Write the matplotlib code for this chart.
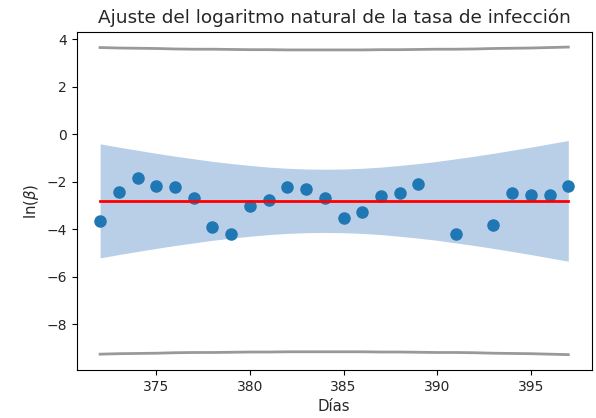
import numpy as np
import matplotlib
matplotlib.use('Agg')
import matplotlib.pyplot as plt

# --- datos ---
dias = [372, 373, 374, 375, 376, 377, 378, 379, 380, 381, 382, 383, 384,
        385, 386, 387, 388, 389, 391, 393, 394, 395, 396, 397]
ln_beta = [-3.66, -2.42, -1.83, -2.16, -2.23, -2.70, -3.91, -4.18, -3.02,
           -2.77, -2.23, -2.30, -2.70, -3.54, -3.27, -2.61, -2.49, -2.11,
           -4.19, -3.80, -2.49, -2.54, -2.54, -2.16]

# malla de días para el ajuste y las bandas
dias_ajuste = list(range(372, 398))
ajuste = [-2.79] * len(dias_ajuste)

banda_sup = [-0.40, -0.54, -0.67, -0.80, -0.92, -1.03, -1.14, -1.23, -1.31,
             -1.38, -1.43, -1.46, -1.47, -1.46, -1.43, -1.38, -1.31, -1.23,
             -1.14, -1.03, -0.92, -0.80, -0.67, -0.54, -0.40, -0.26]
banda_inf = [-5.20, -5.06, -4.93, -4.80, -4.68, -4.57, -4.46, -4.37, -4.29,
             -4.22, -4.17, -4.14, -4.13, -4.14, -4.17, -4.22, -4.29, -4.37,
             -4.46, -4.57, -4.68, -4.80, -4.93, -5.06, -5.20, -5.34]

pred_sup = [3.65, 3.63, 3.62, 3.61, 3.59, 3.58, 3.58, 3.57, 3.56, 3.56, 3.55,
            3.55, 3.55, 3.55, 3.55, 3.56, 3.56, 3.57, 3.58, 3.58, 3.59, 3.61,
            3.62, 3.63, 3.65, 3.67]
pred_inf = [-9.25, -9.23, -9.22, -9.21, -9.19, -9.18, -9.18, -9.17, -9.16,
            -9.16, -9.15, -9.15, -9.15, -9.15, -9.15, -9.16, -9.16, -9.17,
            -9.18, -9.18, -9.19, -9.21, -9.22, -9.23, -9.25, -9.27]

fig = plt.figure(figsize=(5.96, 4.18), dpi=100)
ax = fig.add_axes([0.1287, 0.1148, 0.8641, 0.8094])

ax.fill_between(dias_ajuste, banda_inf, banda_sup, color='#b9cfe8', lw=0)
ax.plot(dias_ajuste, pred_sup, color='gray', lw=2, alpha=0.8)
ax.plot(dias_ajuste, pred_inf, color='gray', lw=2, alpha=0.8)
ax.scatter(dias, ln_beta, s=64, color='#1f77b4', zorder=3)
ax.plot(dias_ajuste, ajuste, color='red', lw=2, zorder=4)

ax.set_title('Ajuste del logaritmo natural de la tasa de infección',
             fontsize=13.3, color='#262626')
ax.set_xlabel('Días', fontsize=10.7, color='#262626')
ax.set_ylabel(r'$\ln(\beta)$', fontsize=10.7, color='#262626')
ax.tick_params(labelsize=10, labelcolor='#262626')
ax.set_yticks([4, 2, 0, -2, -4, -6, -8])

fig.savefig('out.png', dpi=100)
